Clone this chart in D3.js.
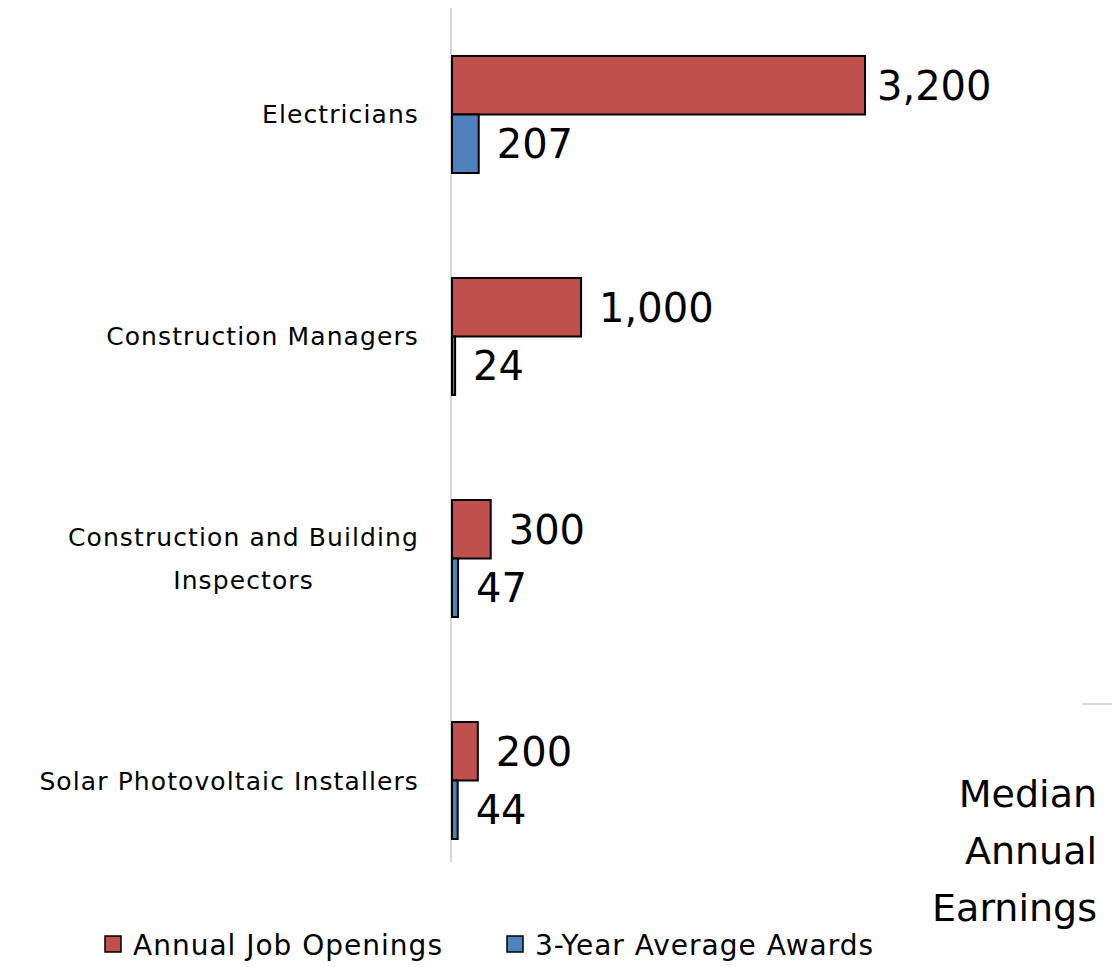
<!DOCTYPE html>
<html>
<head>
<meta charset="utf-8">
<script src="https://cdn.jsdelivr.net/npm/d3@7"></script>
<style>
  body { margin: 0; background: #fff; }
  text { font-family: "DejaVu Sans", sans-serif; fill: #000; }
</style>
</head>
<body>
<script>
const categories = [
    "Electricians",
    "Construction Managers",
    "Construction and Building Inspectors",
    "Solar Photovoltaic Installers"
];
const seriesNames = ["Annual Job Openings", "3-Year Average Awards"];
const jobOpenings = [3200, 1000, 300, 200];
const avgAwards = [207, 24, 47, 44];
const sideTitle = ["Median", "Annual", "Earnings"];

const width = 1112, height = 967;
const colors = ["#C0504D", "#4F81BD"];

const svg = d3.select("body").append("svg")
    .attr("width", width)
    .attr("height", height);

const x = d3.scaleLinear()
    .domain([0, 3200])
    .range([452, 865]);

const y = d3.scaleBand()
    .domain(categories)
    .range([56, 839])
    .paddingInner(0.473)
    .paddingOuter(0);

const ySub = d3.scaleBand()
    .domain(seriesNames)
    .range([0, y.bandwidth()]);

// vertical axis line
svg.append("line")
    .attr("x1", 451).attr("x2", 451)
    .attr("y1", 8).attr("y2", 862)
    .attr("stroke", "#d9d9d9")
    .attr("stroke-width", 2);

const rows = categories.map((c, i) => ({
    cat: c,
    vals: [jobOpenings[i], avgAwards[i]]
}));

const g = svg.selectAll("g.cat")
    .data(rows)
    .join("g")
    .attr("class", "cat")
    .attr("transform", d => `translate(0,${y(d.cat)})`);

g.selectAll("rect")
    .data(d => d.vals.map((v, j) => ({ v, s: seriesNames[j], j })))
    .join("rect")
    .attr("x", x(0))
    .attr("y", d => ySub(d.s))
    .attr("width", d => x(d.v) - x(0))
    .attr("height", ySub.bandwidth())
    .attr("fill", d => colors[d.j])
    .attr("stroke", "#000")
    .attr("stroke-width", 2);

g.selectAll("text.val")
    .data(d => d.vals.map((v, j) => ({ v, s: seriesNames[j], j })))
    .join("text")
    .attr("class", "val")
    .attr("x", d => x(d.v) + (d.v > 2000 ? 12 : 18))
    .attr("y", d => ySub(d.s) + ySub.bandwidth() / 2)
    .attr("dy", "0.36em")
    .style("font-size", "40px")
    .text(d => d3.format(",")(d.v));

// category labels
const wrap = { "Construction and Building Inspectors": ["Construction and Building", "Inspectors"] };
const labelRight = 419;
const labels = svg.selectAll("text.cat")
    .data(categories)
    .join("text")
    .attr("class", "cat")
    .attr("y", d => y(d) + y.bandwidth() / 2)
    .style("font-size", "25px")
    .style("letter-spacing", "1.1px")
    .style("text-anchor", d => wrap[d] ? "middle" : "end");

labels.each(function(d) {
    const t = d3.select(this);
    const lines = wrap[d] || [d];
    const lh = 43;
    const spans = lines.map((ln, k) => t.append("tspan")
        .attr("dy", k === 0 ? (-(lines.length - 1) * lh / 2 + 9) + "px" : lh + "px")
        .text(ln));
    if (wrap[d]) {
        const w = d3.max(spans, s => s.node().getComputedTextLength());
        spans.forEach(s => s.attr("x", labelRight - w / 2));
    } else {
        spans.forEach(s => s.attr("x", labelRight));
    }
});

// legend
const legend = svg.append("g").attr("transform", "translate(0,945)");
const legX = [105, 507];
seriesNames.forEach((s, i) => {
    legend.append("rect")
        .attr("x", legX[i]).attr("y", -9)
        .attr("width", 16).attr("height", 16)
        .attr("fill", colors[i])
        .attr("stroke", "#000")
        .attr("stroke-width", 1.5);
    legend.append("text")
        .attr("x", legX[i] + 28)
        .attr("y", 0)
        .attr("dy", "0.36em")
        .style("font-size", "28px")
        .style("letter-spacing", "1px")
        .text(s);
});

// right side title
svg.append("line")
    .attr("x1", 1082).attr("x2", 1112)
    .attr("y1", 704).attr("y2", 704)
    .attr("stroke", "#d9d9d9")
    .attr("stroke-width", 2);

svg.append("text")
    .style("font-size", "38px")
    .style("text-anchor", "end")
    .selectAll("tspan")
    .data(sideTitle)
    .join("tspan")
    .attr("x", 1097)
    .attr("y", (d, i) => 807 + i * 57)
    .text(d => d);
</script>
</body>
</html>
